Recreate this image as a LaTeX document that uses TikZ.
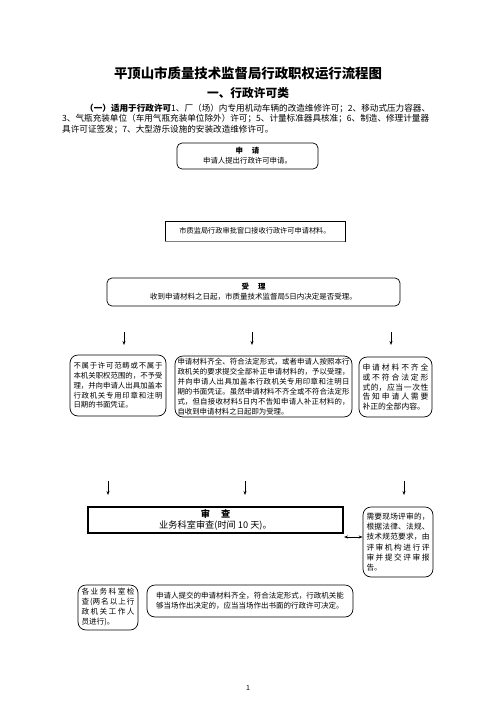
\documentclass[tikz,border=0pt]{standalone}
\usepackage{fontspec}
\setmainfont{Noto Sans CJK SC}
\usetikzlibrary{arrows.meta}
\XeTeXlinebreaklocale "zh"
\XeTeXlinebreakskip=0pt plus 1.5pt
\newcommand{\fsz}[2]{\fontsize{#1}{#2}\selectfont}
\tikzset{
  rbox/.style={draw, line width=0.7pt, rounded corners=8pt, inner sep=0pt, align=justify},
  sbox/.style={draw, line width=0.7pt, inner sep=0pt, align=center},
  arr/.style={-{Stealth[length=4pt,width=3pt]}, line width=0.7pt},
  darr/.style={{Stealth[length=4pt,width=3pt]}-{Stealth[length=4pt,width=3pt]}, line width=0.7pt}
}
\begin{document}
\begin{tikzpicture}[x=1pt,y=-1pt]
\useasboundingbox (0,0) rectangle (496,702);
\fill[white] (0,0) rectangle (496,702);
% titles
\node[font=\fsz{13.4}{15}\bfseries] (title) at (248,73) {平顶山市质量技术监督局行政职权运行流程图};
\node[font=\fsz{11.7}{13}\bfseries] (sub) at (248,93) {一、行政许可类};
\node[anchor=west, inner sep=0pt, font=\fsz{8.6}{10}] (p1) at (85,108) {\textbf{（一）适用于行政许可}1、厂（场）内专用机动车辆的改造维修许可；2、移动式压力容器、};
\node[anchor=west, inner sep=0pt, font=\fsz{8.6}{10}] (p2) at (62,119) {3、气瓶充装单位（车用气瓶充装单位除外）许可；5、计量标准器具核准；6、制造、修理计量器};
\node[anchor=west, inner sep=0pt, font=\fsz{8.6}{10}] (p3) at (62,129.5) {具许可证签发；7、大型游乐设施的安装改造维修许可。};
% box 1
\node[rbox, rounded corners=5pt, align=center, minimum width=141pt, minimum height=26pt, font=\fsz{7.4}{10}] (b1) at (247.5,156) {\textbf{申\hspace{1.2em}请}\\申请人提出行政许可申请。};
% box 2
\node[sbox, minimum width=180pt, minimum height=20pt, font=\fsz{7.2}{9}] (b2) at (255,231) {市质监局行政审批窗口接收行政许可申请材料。};
\draw[gray, line width=1.6pt] (b2.south west) -- (b2.south east);
% box 3
\node[rbox, rounded corners=5pt, align=center, minimum width=293pt, minimum height=28pt, font=\fsz{7.5}{10}] (b3) at (253.5,292) {\textbf{受\hspace{1.2em}理}\\收到申请材料之日起，市质量技术监督局5日内决定是否受理。};
% row 1 arrows
\coordinate (a1s) at (124,332); \coordinate (a1e) at (124,345);
\coordinate (a2s) at (252,332); \coordinate (a2e) at (252,345);
\coordinate (a3s) at (391,332); \coordinate (a3e) at (391,345);
\draw[arr] (a1s) -- (a1e);
\draw[arr] (a2s) -- (a2e);
\draw[arr] (a3s) -- (a3e);
% row boxes
\node[rbox, minimum width=96pt, minimum height=61pt, text width=89pt, font=\fsz{7.4}{9.8}] (l1) at (118,385.5) {不属于许可范畴或不属于\linebreak 本机关职权范围的，不予受\linebreak 理，并向申请人出具加盖本\linebreak 行政机关专用印章和注明\linebreak 日期的书面凭证。};
\node[rbox, minimum width=177pt, minimum height=61pt, text width=172pt, font=\fsz{7.4}{10}] (m1) at (263.5,386.5) {申请材料齐全、符合法定形式，或者申请人按照本行\linebreak 政机关的要求提交全部补正申请材料的，予以受理，\linebreak 并向申请人出具加盖本行政机关专用印章和注明日\linebreak 期的书面凭证。虽然申请材料不齐全或不符合法定形\linebreak 式，但自接收材料5日内不告知申请人补正材料的，\linebreak 自收到申请材料之日起即为受理。};
\node[rbox, minimum width=73pt, minimum height=60pt, text width=66pt, font=\fsz{7.8}{9.8}] (r1) at (395.5,387) {申请材料不齐全\linebreak 或不符合法定形\linebreak 式的，应当一次性\linebreak 告知申请人需要\linebreak 补正的全部内容。};
% row 2 arrows
\coordinate (c1s) at (108,481); \coordinate (c1e) at (108,495);
\coordinate (c2s) at (245,481); \coordinate (c2e) at (245,495);
\coordinate (c3s) at (404,481); \coordinate (c3e) at (404,495);
\draw[arr] (c1s) -- (c1e);
\draw[arr] (c2s) -- (c2e);
\draw[arr] (c3s) -- (c3e);
% check box
\node[sbox, line width=1.1pt, minimum width=255pt, minimum height=26pt, font=\fsz{9.2}{11.5}] (s) at (215.5,520) {\textbf{审\hspace{1.2em}查}\\业务科室审查(时间 10 天)。};
\node[rbox, minimum width=70pt, minimum height=70pt, text width=63pt, font=\fsz{7.7}{10.2}] (r2) at (398,542) {需要现场评审的，\linebreak 根据法律、法规、\linebreak 技术规范要求，由\linebreak 评审机构进行评\linebreak 审并提交评审报\linebreak 告。};
\coordinate (dl) at (344,537);
\coordinate (dr) at (r2.west |- dl);
\draw[darr] (dl) -- (dr);
% bottom boxes
\node[rbox, minimum width=60pt, minimum height=45pt, text width=53pt, font=\fsz{7.6}{10}] (bl) at (108,607.5) {各业务科室检\linebreak 查(两名以上行\linebreak 政机关工作人\linebreak 员进行)。};
\node[rbox, minimum width=206pt, minimum height=32pt, text width=188pt, font=\fsz{7.5}{10}] (bm) at (250,601) {申请人提交的申请材料齐全，符合法定形式，行政机关能\linebreak 够当场作出决定的，应当当场作出书面的行政许可决定。};
% page number
\node[font=\fsz{7}{8}] (pg) at (248,688) {1};
\end{tikzpicture}
\end{document}
